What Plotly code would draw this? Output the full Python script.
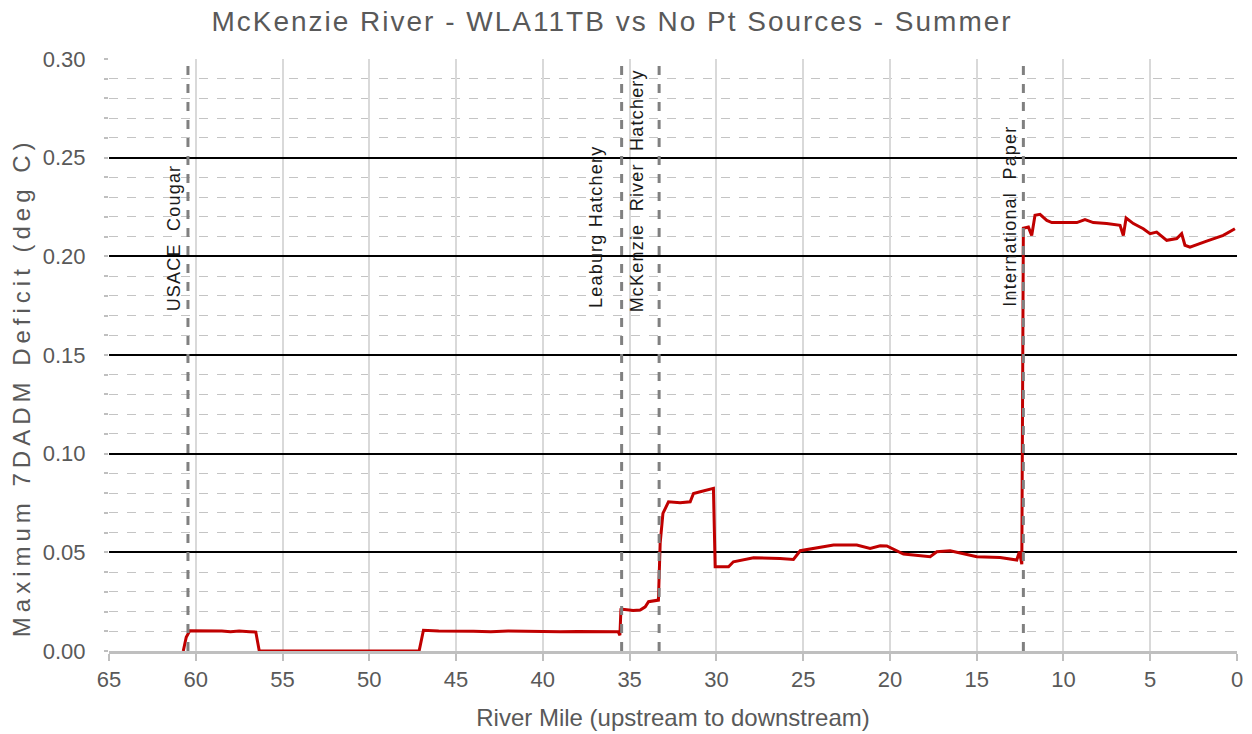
import plotly.graph_objects as go

# ---- data ----
river_mile = [
    60.72, 60.55, 60.35, 59.5, 58.5, 58.0, 57.5, 56.9, 56.54, 56.34,
    47.13, 46.88, 46.0, 44.0, 43.0, 42.0, 41.0, 40.0, 39.0, 38.0, 37.0, 36.0, 35.66, 35.56, 35.50,
    35.40, 34.80, 34.39, 34.10, 33.91, 33.60, 33.34, 33.24, 33.08, 32.76, 32.09, 31.51, 31.32, 30.93, 30.17, 30.07,
    29.30, 29.02, 28.24, 27.86, 26.33, 25.56, 25.17, 24.41, 24.02, 23.25, 21.91, 21.14, 20.56, 20.18,
    19.22, 17.68, 17.30, 16.53, 14.99, 13.65, 12.69, 12.54, 12.40,
    12.31, 12.02, 11.83, 11.64, 11.35, 10.96, 10.67, 9.23, 8.76, 8.28, 7.51, 6.74, 6.55, 6.39,
    5.97, 5.40, 5.01, 4.63, 4.05, 3.47, 3.19, 3.00, 2.71, 1.75, 0.79, 0.12,
]
deficit = [
    0.0, 0.007, 0.0102, 0.0103, 0.0101, 0.0098, 0.0101, 0.0098, 0.0096, 0.0,
    0.0, 0.0105, 0.0101, 0.0100, 0.0097, 0.0101, 0.0099, 0.0100, 0.0097, 0.0099, 0.0097, 0.0097, 0.0097, 0.0080, 0.0210,
    0.0212, 0.0205, 0.0208, 0.0224, 0.0250, 0.0255, 0.0258, 0.0545, 0.0697, 0.0756, 0.0751, 0.0756, 0.0798, 0.0807, 0.0824, 0.0427,
    0.0427, 0.0452, 0.0464, 0.0472, 0.0469, 0.0464, 0.0508, 0.0520, 0.0528, 0.0537, 0.0537, 0.0520, 0.0533, 0.0532,
    0.0491, 0.0478, 0.0503, 0.0508, 0.0478, 0.0474, 0.0461, 0.0503, 0.0440,
    0.2142, 0.2148, 0.2106, 0.2208, 0.2213, 0.2182, 0.2171, 0.2171, 0.2186, 0.2171, 0.2166, 0.2157, 0.2106, 0.2194,
    0.2166, 0.2140, 0.2115, 0.2123, 0.2081, 0.2090, 0.2115, 0.2056, 0.2047, 0.2077, 0.2106, 0.2140,
]
source_names = ["USACE  Cougar", "Leaburg Hatchery", "McKenzie  River  Hatchery", "International  Paper"]
source_miles = [60.45, 35.46, 33.30, 12.31]
label_centers = [0.2096, 0.2147, 0.2330, 0.2203]

x_ticks = list(range(0, 70, 5))
title_text = "McKenzie River - WLA11TB vs No Pt Sources - Summer"
x_title = "River Mile (upstream to downstream)"
y_title = "Maximum 7DADM Deficit (deg C)"

# ---- style ----
FONT = "Liberation Sans, Arial, sans-serif"
GRAY_TXT = "#595959"
label_shift = [-14, -25, -22, -13]
W, H = 1252, 734

fig = go.Figure()
fig.add_trace(go.Scatter(
    x=river_mile, y=deficit, mode="lines",
    line=dict(color="#C00000", width=3),
    showlegend=False, hoverinfo="x+y",
))

for m in source_miles:
    fig.add_shape(type="line", xref="x", yref="y", x0=m, x1=m, y0=0, y1=0.3,
                  line=dict(color="#808080", width=3, dash="dash"), layer="above")

for name, m, yc, sh in zip(source_names, source_miles, label_centers, label_shift):
    fig.add_annotation(
        x=m, y=yc, xref="x", yref="y", showarrow=False, textangle=-90,
        xanchor="center", yanchor="middle", xshift=sh,
        text=f'<span style="letter-spacing:1.2px">{name.replace("  ", "&nbsp; ")}</span>',
        font=dict(family=FONT, size=18, color="#1a1a1a"),
    )

fig.add_annotation(
    x=0, y=0.4456, xref="paper", yref="paper", xshift=-88, showarrow=False,
    textangle=-90, xanchor="center", yanchor="middle",
    text=f'<span style="letter-spacing:5px">{y_title}</span>',
    font=dict(family=FONT, size=24, color=GRAY_TXT),
)

fig.update_layout(
    width=W, height=H,
    paper_bgcolor="white", plot_bgcolor="white",
    margin=dict(l=109, r=15, t=58.5, b=83),
    font=dict(family=FONT, color=GRAY_TXT),
    title=dict(text=f'<span style="letter-spacing:2px">{title_text}</span>',
               x=612 / W, xref="container", xanchor="center",
               y=1 - 21 / H, yref="container", yanchor="middle",
               font=dict(family=FONT, size=28, color=GRAY_TXT)),
    xaxis=dict(
        range=[65, 0], tickvals=x_ticks, ticktext=[str(t) for t in x_ticks],
        showgrid=True, gridcolor="#d9d9d9", gridwidth=2,
        ticks="outside", ticklen=7, tickwidth=2, tickcolor="#bfbfbf",
        showline=True, linecolor="#bfbfbf", linewidth=2.5,
        zeroline=False, tickfont=dict(size=22, color=GRAY_TXT), automargin=False,
        title=dict(text=x_title, font=dict(size=24, color=GRAY_TXT), standoff=19),
    ),
    yaxis=dict(
        range=[0, 0.3], dtick=0.05, tickformat=".2f",
        showgrid=True, gridcolor="#000000", gridwidth=2,
        ticks="outside", ticklen=4, tickwidth=1.5, tickcolor="#bfbfbf",
        minor=dict(dtick=0.01, showgrid=True, gridcolor="#c4c4c4", gridwidth=1.3,
                   griddash="dash", ticks="outside", ticklen=4, tickcolor="#bfbfbf"),
        showline=False, zeroline=False, automargin=False,
        tickfont=dict(size=22, color=GRAY_TXT), ticklabelstandoff=14,
    ),
)

fig.write_html("out.html", config={"displayModeBar": False},
               post_script="document.body.style.margin='0px';")
